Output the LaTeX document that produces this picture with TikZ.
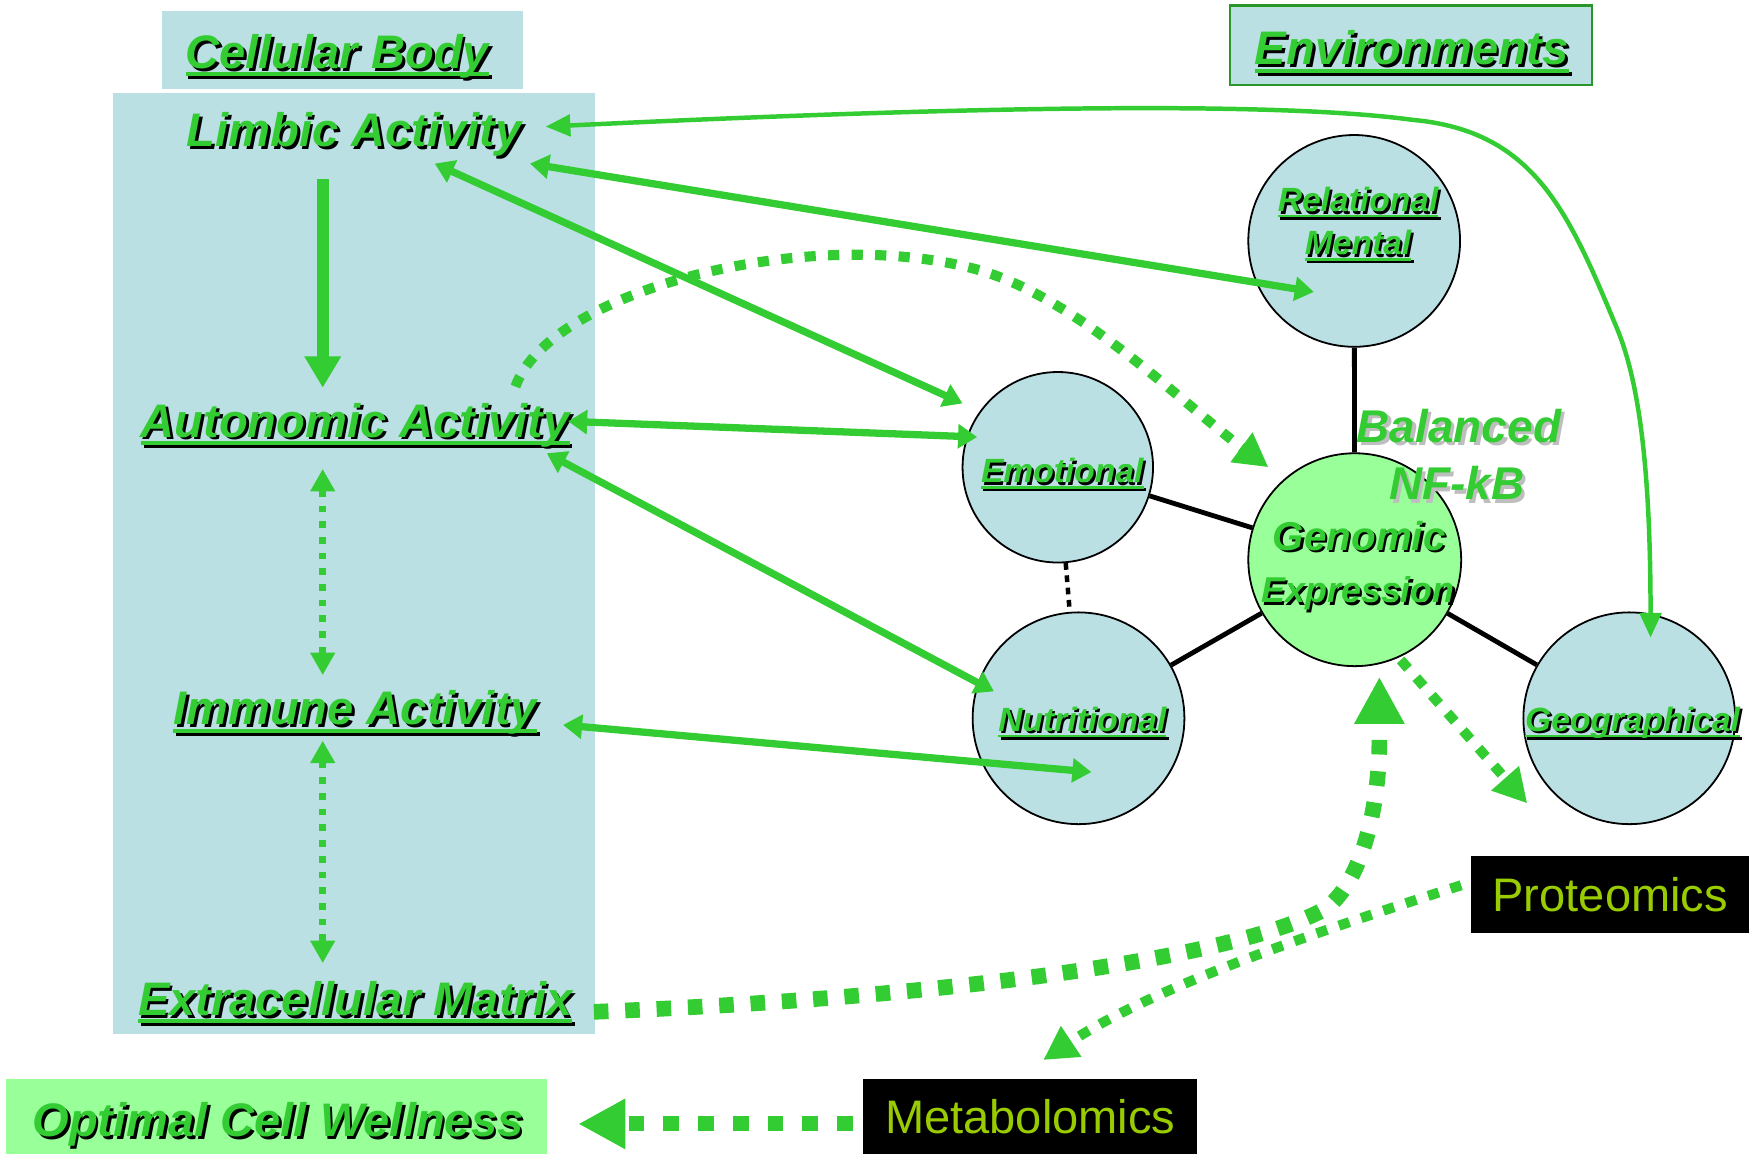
\documentclass[tikz,border=0pt]{standalone}
\usepackage{fontspec}
\setmainfont{Liberation Sans}
\usetikzlibrary{arrows.meta}
\definecolor{G}{RGB}{51,204,51}
\definecolor{LB}{RGB}{187,224,227}
\definecolor{LG}{RGB}{153,255,153}
\definecolor{YG}{RGB}{153,204,0}
\definecolor{DG}{RGB}{40,150,40}
\definecolor{SG}{RGB}{190,190,190}
\newcommand\ulx[1]{\leavevmode\setbox0\hbox{#1}\rlap{\rule[-0.17em]{\wd0}{0.085em}}\box0}
\newcommand\shd[3]{\leavevmode\rlap{\hspace*{#2}\raisebox{-#2}{\color{#1}#3}}{\color{G}#3}}
\begin{document}
\begin{tikzpicture}[x=1pt,y=-1pt,
  big/.style={inner sep=0pt, anchor=base, font=\fontsize{42}{48}\selectfont\bfseries\itshape},
  small/.style={inner sep=0pt, anchor=base, font=\fontsize{30}{34}\selectfont\bfseries\itshape},
  plain/.style={inner sep=0pt, font=\fontsize{42}{48}\selectfont, text=YG},
  bx/.style={rectangle, inner sep=0pt},
  circ/.style={circle, draw=black, line width=1.6pt, fill=LB, inner sep=0pt},
  blk/.style={draw=black, line width=4.3pt},
  sarr/.style={draw=G, line width=6.5pt, {Triangle[length=17pt,width=21pt]}-{Triangle[length=17pt,width=21pt]}},
  vdot/.style={draw=G, line width=6pt, dash pattern=on 6pt off 8pt, {Triangle[length=20pt,width=21pt]}-{Triangle[length=20pt,width=21pt]}},
  mdot/.style={draw=G, line width=9pt, dash pattern=on 10pt off 11pt, -{Triangle[length=30pt,width=31pt]}},
  hdot/.style={draw=G, line width=14pt, dash pattern=on 13pt off 15pt, -{Triangle[length=42pt,width=42pt]}}
]
\useasboundingbox (0,0) rectangle (1568,1030);

% boxes
\node[bx, fill=LB, minimum width=322pt, minimum height=69pt] (cbbox) at (306,44.5) {};
\node[bx, fill=LB, minimum width=430pt, minimum height=840pt] (cellbox) at (316,503) {};
\node[bx, fill=LG, minimum width=483pt, minimum height=67pt] (optbox) at (246.5,996.5) {};
\node[bx, fill=LB, draw=DG, line width=2pt, minimum width=323pt, minimum height=71pt] (envbox) at (1259.5,40.5) {};
\node[bx, fill=black, minimum width=248pt, minimum height=69pt, plain] (prot) at (1437,798) {Proteomics};
\node[bx, fill=black, minimum width=298pt, minimum height=67pt, plain] (met) at (919.5,996.5) {Metabolomics};

% circles
\node[circ, minimum size=189pt] (rel) at (1208.5,215) {};
\node[circ, minimum size=170pt] (emo) at (944,417) {};
\node[circ, minimum size=189pt] (nut) at (962.5,641) {};
\node[circ, fill=LG, minimum size=190pt] (gen) at (1209,499.5) {};
\node[circ, minimum size=189pt] (geo) at (1454,641) {};

% black links
\draw[blk] (rel) -- (gen);
\draw[blk] (emo) -- (gen);
\draw[blk] (nut) -- (gen);
\draw[blk] (geo) -- (gen);
\draw[blk, line width=4pt, dash pattern=on 6pt off 5pt] (emo) -- (nut);

% labels
\node[big] (tcb) at (301,61) {\shd{black}{2.5pt}{\ulx{Cellular Body}}};
\node[big] (tlim) at (316,131) {\shd{black}{2.5pt}{Limbic Activity}};
\node[big] (taut) at (317,390) {\shd{black}{2.5pt}{\ulx{Autonomic Activity}}};
\node[big] (timm) at (317,647) {\shd{black}{2.5pt}{\ulx{Immune Activity}}};
\node[big] (text) at (317,906) {\shd{black}{2.5pt}{\ulx{Extracellular Matrix}}};
\node[big] (topt) at (248,1014) {\shd{black}{2.5pt}{Optimal Cell Wellness}};
\node[big] (tenv) at (1260,58) {\shd{black}{2.5pt}{\ulx{Environments}}};
\node[big, font=\fontsize{41}{48}\selectfont\bfseries\itshape] (tbal) at (1302,395) {\shd{SG}{3pt}{Balanced}};
\node[big, font=\fontsize{41}{48}\selectfont\bfseries\itshape] (tnf) at (1300,446) {\shd{SG}{3pt}{NF-kB}};
\node[small] (trel) at (1212,189) {\shd{black}{2pt}{\ulx{Relational}}};
\node[small] (tmen) at (1212,227.5) {\shd{black}{2pt}{\ulx{Mental}}};
\node[small] (temo) at (948,431) {\shd{black}{2pt}{\ulx{Emotional}}};
\node[small] (tnut) at (966,653) {\shd{black}{2pt}{\ulx{Nutritional}}};
\node[small] (tgeo) at (1457,653) {\shd{black}{2pt}{\ulx{Geographical}}};
\node[small, font=\fontsize{36}{40}\selectfont\bfseries\itshape] (tgen) at (1213,491) {\shd{black}{2pt}{Genomic}};
\node[small, font=\fontsize{32}{36}\selectfont\bfseries\itshape] (texp) at (1212,538) {\shd{black}{2pt}{Expression}};

% arrow end points
\coordinate (limA) at (388,146);   \coordinate (emoA) at (859,360);
\coordinate (limB) at (473,146);   \coordinate (relA) at (1172.5,260.5);
\coordinate (limC) at (487,113);   \coordinate (geoA) at (1473,569);
\coordinate (limD) at (288,160);   \coordinate (autA) at (288,346);
\coordinate (autB) at (288,418.5); \coordinate (immA) at (288,602.5);
\coordinate (immB) at (288,661);   \coordinate (extA) at (288,859.5);
\coordinate (autC) at (507,376);   \coordinate (emoB) at (872,390);
\coordinate (autD) at (488,404.5); \coordinate (nutA) at (887,617);
\coordinate (immC) at (502.5,647); \coordinate (nutB) at (974,689);
\coordinate (autE) at (460,345);   \coordinate (genA) at (1132,417);
\coordinate (genB) at (1250,589);  \coordinate (gsA) at (1363,717);
\coordinate (extB) at (530,903);   \coordinate (genC) at (1231,604);
\coordinate (proB) at (1304,790);  \coordinate (metA) at (931,946);
\coordinate (metB) at (761,1003);  \coordinate (optA) at (516,1003);

% green connectors
\draw[draw=G, line width=10.5pt, -{Triangle[length=28pt,width=31pt]}] (limD) -- (autA);
\draw[vdot] (autB) -- (immA);
\draw[vdot] (immB) -- (extA);
\draw[sarr] (limA) -- (emoA);
\draw[sarr] (limB) -- (relA);
\draw[sarr] (autC) -- (emoB);
\draw[sarr] (autD) -- (nutA);
\draw[sarr] (immC) -- (nutB);
\draw[draw=G, line width=4pt, {Triangle[length=22pt,width=19pt]}-{Triangle[length=22pt,width=19pt]}]
  (limC) .. controls (800,98) and (1120,88) .. (1261,107)
  .. controls (1370,117) and (1400,190) .. (1443,293)
  .. controls (1463,341) and (1473,420) .. (geoA);
\draw[mdot] (autE) .. controls (490,260) and (720,200) .. (870,240)
  .. controls (960,264) and (1055,360) .. (genA);
\draw[mdot] (genB) -- (gsA);
\draw[mdot] (proB) .. controls (1180,830) and (1030,880) .. (metA);
\draw[hdot] (extB) .. controls (850,890) and (1100,855) .. (1181,812)
  .. controls (1215,790) and (1231,720) .. (1231,660) -- (genC);
\draw[hdot, line width=13.5pt, dash pattern=on 14pt off 17pt] (metB) -- (optA);
\end{tikzpicture}
\end{document}
